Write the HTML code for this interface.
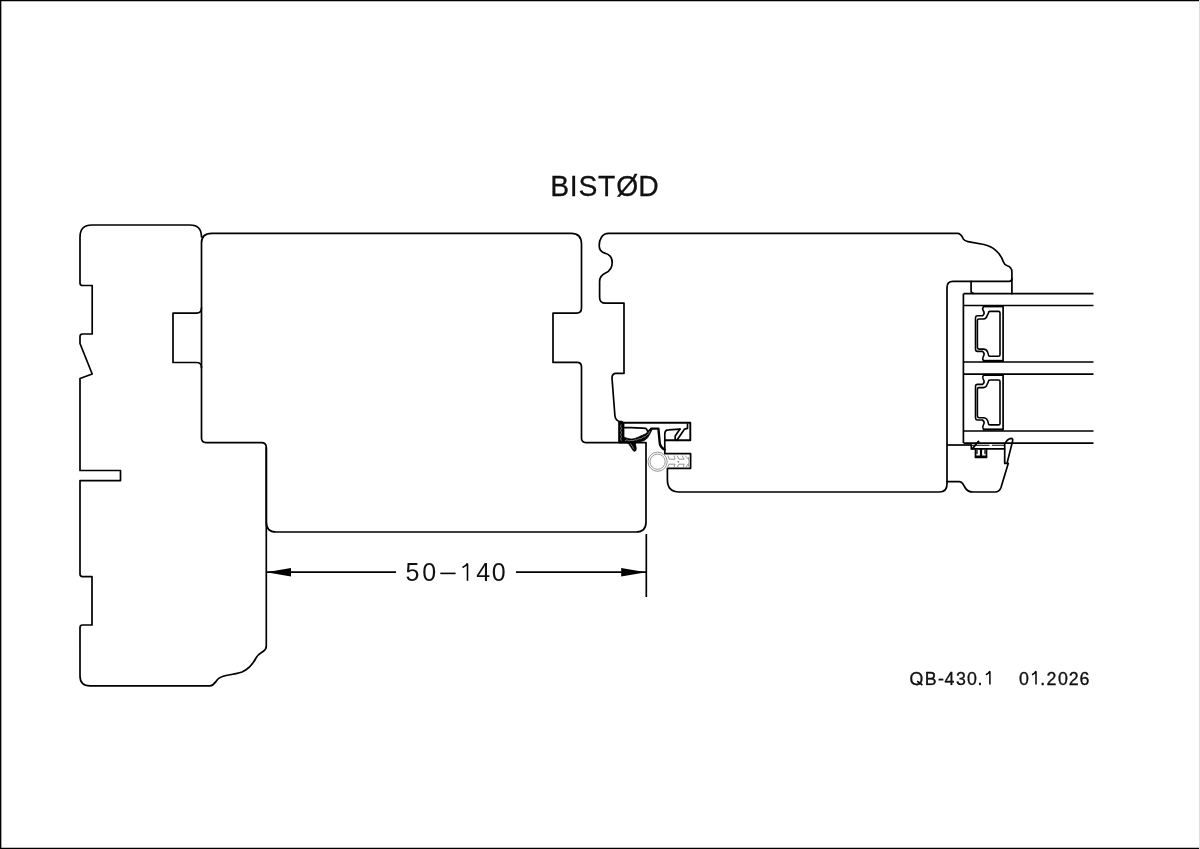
<!DOCTYPE html>
<html><head><meta charset="utf-8"><title>BISTØD</title>
<style>
html,body{margin:0;padding:0;background:#fff;}
body{width:1200px;height:849px;overflow:hidden;position:relative;}
svg{position:absolute;left:0;top:0;}
.t{font-family:"Liberation Sans",sans-serif;fill:#111;}
.tg{opacity:0.999;}
svg{will-change:transform;}
</style></head>
<body>
<svg width="1200" height="849" viewBox="0 0 1200 849">
<!-- page border -->
<rect x="0" y="0" width="1200" height="849" fill="#fff"/>
<line x1="0" y1="0.5" x2="1200" y2="0.5" stroke="#000" stroke-width="1.5"/>
<line x1="0.6" y1="0" x2="0.6" y2="849" stroke="#000" stroke-width="1.5"/>
<line x1="0" y1="848.4" x2="1200" y2="848.4" stroke="#000" stroke-width="1.2"/>
<line x1="1199.5" y1="0" x2="1199.5" y2="849" stroke="#ddd" stroke-width="1"/>

<g fill="none" stroke="#000" stroke-width="1.7" stroke-linejoin="round" stroke-linecap="round">
<!-- left piece (stud) -->
<path id="stud" d="M201.5 308 Q201.5 313.1 196.5 313.1 H173 V362.5 H196.5 Q201.5 362.5 201.5 367.5 M201.5 237 Q201.5 225 190 225 H92 Q80 225 80 237 V283 Q80 285.5 82.5 285.5 H92.2 V334 H82.5 Q80 334 80 336.5 V343.5 L92.2 374 L80 378.5 V470.5 H120.5 V480.6 H80 V574 Q80 576.6 82.5 576.6 H92 V625 H82.5 Q80 625 80 627.5 V676 Q80 685.8 90 685.8 H210 C214 685.8 215 682 218 679 C220 677 222 676.5 226 675.5 C232 674.5 238 673.5 242 672 C249 669 253 664 256 658 C258 654 261 653 263 651.5 C265.5 650 266.3 648.5 266.3 646 V447.5"/>
<!-- center frame piece -->
<path id="frame" d="M211.7 233.4 H571 Q581.5 233.4 581.5 244 V308 Q581.5 313.1 576.5 313.1 H553 V362.4 H577 Q581.5 362.4 581.5 367 V438 Q581.5 442.6 586 442.6 H646 V522 Q646 532 636 532 H276 Q266.3 532 266.3 522 V447.5 Q266.3 442.6 261.5 442.6 H206 Q201.5 442.6 201.5 438 V243 Q201.5 233.4 211.7 233.4 Z"/>
</g>


<!-- sash -->
<g fill="none" stroke="#000" stroke-width="1.7" stroke-linejoin="round" stroke-linecap="round">
<path d="M620 421.8 Q615.3 420.5 614.9 415.5 L612 378 Q612 373.3 616 373.3 H624 V303.2 H605.5 Q599.6 303.2 599.6 297.5 V281.5 C599.6 277.5 601.5 274.8 605.5 273 C609 271.5 612.2 268 612.2 262.5 C612.2 258 609.5 254.5 605.3 253.3 C602 252.5 599.2 250 599.2 245.5 C599.2 239 602.5 233.3 608.4 233.3 H957.5 C960.5 233.3 962 236 963.3 238.8 C964.3 240.6 965.5 241.1 968 241.6 L983.9 244.5 C993 246.5 1000.5 253 1003.3 261.8 C1004 264 1005.2 265 1007.3 265.7 C1010 266.6 1011.9 268.5 1011.9 272 V293.7"/>
<path d="M1011.9 278.5 Q1011.9 281.4 1009 281.4 H953 Q947 281.4 947 287.4 V484 Q947 492 939.3 492 H679.3 Q667.4 492 667.4 479.8 V468.3 H690.6 V453.7 H664.8 V434 Q664.8 429.8 668.5 429.8 L680 429.1"/>
<!-- top bead -->
<path d="M971.1 281.4 V291 Q971.1 293.3 973.5 293.3"/>
<!-- upper slot -->
<path d="M619.5 422.7 H690.3 V440.2 H664.8" stroke-width="1.9"/>
<path d="M687.5 424.2 V428.4 L684.6 429.1 L676.7 440.4 M680 429.1 L675.2 436 V440.2"/>
<!-- tooth -->
<path d="M651.4 428.6 H658.4 L659.8 443.5 Q660.5 447.5 664.8 449.8" stroke-width="2.4"/>
<!-- frame line under seal is part of frame -->
</g>
<!-- glazing lines -->
<g fill="none" stroke="#000" stroke-width="1.7" stroke-linecap="butt">
<path d="M963.5 293.7 H1093.5 M963.5 305.5 H1093.5 M963.5 362 H1093.5 M963.5 374.2 H1093.5 M963.5 431 H1093.5 M963.5 443.1 H1093.5 M963.4 293.7 V443.1"/>
<path d="M947 445 H971.5"/>
</g>


<!-- spacers -->
<g>
<path d="M983.5 306.5 C982.5 308 982.5 309.5 983.2 310.5 C984.5 312.5 984.3 314.5 982.5 315.8 H977.5 Q975.5 315.8 975.5 318 V349 Q975.5 351.4 977.5 351.4 H982.5 C984.3 352.7 984.5 354.8 983.2 356.8 C982.5 358 982.5 359.5 983.5 361" fill="none" stroke="#000" stroke-width="1.6"/>
<path d="M988.4 312.9 Q988.4 311.4 990 311.4 H998.5 Q1000 311.4 1000 313 V354.8 Q1000 356.3 998.5 356.3 H990 Q988.4 356.3 988.4 354.8 C988.2 352.5 987.5 351 986.2 350 C985.2 349.3 984.6 349.1 983.5 349.1 H979 Q977.4 349.1 977.4 347.5 V320.5 Q977.4 319 979 319 H983.5 C985 318.8 986.5 318 986.9 316.3 C987.4 314.5 988.4 313.8 988.4 312.9 Z" fill="none" stroke="#000" stroke-width="1.6"/>
<path d="M1003.1 305.6 V361.8" stroke="#000" stroke-width="1.7"/>
<rect x="983" y="305.2" width="20" height="2.2" fill="#000"/>
<rect x="983" y="359.8" width="20" height="2.2" fill="#000"/>
</g>
<g transform="translate(0,68.6)">
<path d="M983.5 306.5 C982.5 308 982.5 309.5 983.2 310.5 C984.5 312.5 984.3 314.5 982.5 315.8 H977.5 Q975.5 315.8 975.5 318 V349 Q975.5 351.4 977.5 351.4 H982.5 C984.3 352.7 984.5 354.8 983.2 356.8 C982.5 358 982.5 359.5 983.5 361" fill="none" stroke="#000" stroke-width="1.6"/>
<path d="M988.4 312.9 Q988.4 311.4 990 311.4 H998.5 Q1000 311.4 1000 313 V354.8 Q1000 356.3 998.5 356.3 H990 Q988.4 356.3 988.4 354.8 C988.2 352.5 987.5 351 986.2 350 C985.2 349.3 984.6 349.1 983.5 349.1 H979 Q977.4 349.1 977.4 347.5 V320.5 Q977.4 319 979 319 H983.5 C985 318.8 986.5 318 986.9 316.3 C987.4 314.5 988.4 313.8 988.4 312.9 Z" fill="none" stroke="#000" stroke-width="1.6"/>
<path d="M1003.1 305.6 V361.8" stroke="#000" stroke-width="1.7"/>
<rect x="983" y="305.2" width="20" height="2.2" fill="#000"/>
<rect x="983" y="359.8" width="20" height="2.2" fill="#000"/>
</g>

<!-- seal -->
<g fill="#000" stroke="#000" stroke-linejoin="round">
<path d="M618.6 422.6 Q619 420.9 621 421 Q623.5 421.3 624 423 V437.2 C627 438.2 629.5 439 631.8 439 C634.5 438.8 637 437.7 639.2 436.7 C641.5 435.6 643.8 434.8 645.6 433.8 C647 433 648 431.6 648.6 430.3 C649.3 429.2 650.2 428.4 651.1 428.3 L652 429.8 C650.6 432.3 649.4 435.5 647.6 437.7 C646 439.5 644.5 440.4 642.7 441 C640.4 441.8 637.8 442.3 635.2 442.4 L636.2 448.1 Q636.6 451.3 634.5 451.3 Q633.3 451.3 632.6 449.8 L628.5 443.6 L626.5 443 H618.6 Z" stroke-width="0.8"/>
</g>
<path d="M624.6 427.6 C629 427.6 633 427.8 636.7 427.8 C640 427.9 643.5 428 645.6 428.3 C646.7 429 647.3 430.3 647.8 431.6" fill="none" stroke="#000" stroke-width="1.8" stroke-linecap="round"/>
<g stroke="#fff" stroke-width="0.55" fill="none" opacity="0.85">
<path d="M621.2 424.5 L620.6 426.5 L621.6 428.5 L620.6 430.5 L621.6 432.5 L620.6 434.5 L621.6 436.5 L620.6 438.5 L621.4 440.8"/>
<path d="M625 440.6 L627 439.8 L629 441 L631 440.4 L633 440.6 L635 439.8 L637 440 L639 438.6 L641 438.8 L643 437.2 L645 436.8 L647 434.8 L648.6 433.6 L650 431"/>
<path d="M630.5 443.5 L631.5 445.5 L632.6 446.2 L633.4 448.4 L634.3 449.2"/>
</g>
<!-- gasket tube -->
<circle cx="657.6" cy="461.7" r="9.6" fill="none" stroke="#8a8a8a" stroke-width="0.9"/>
<circle cx="657.6" cy="461.7" r="7.6" fill="none" stroke="#8a8a8a" stroke-width="0.9"/>
<g fill="none" stroke="#8a8a8a" stroke-width="0.9">
<path d="M668 455.5 L669.2 459.2 H675 L674 455.5 M677 455.5 L679 459.2 H684.2 L682 455.5 M685 455.5 L688.3 459"/>
<path d="M667.5 467.5 L669 464.2 H675 L674 467.5 M677 467.5 L679 464.2 H684.2 L683 467.5 M685.5 467.5 L688 464"/>
<path d="M688.3 457 Q690 461.5 688.3 466.5"/>
</g>
<circle cx="678.3" cy="461.7" r="0.7" fill="#555"/>

<!-- bottom weather bar + drip -->
<g fill="none" stroke="#000" stroke-width="1.7" stroke-linejoin="round" stroke-linecap="round">
<path d="M947 481.7 H959.2 C962 481.7 963.2 484 965 487.5 C966.5 490.3 969 492 973 492 H995 C998 492 1000 490.3 1001 487.5 L1008.3 463.3"/>
<path d="M1004.7 463.4 V444 C1006 441.5 1008.5 438.8 1011 438.4 C1012.6 438.4 1013 439.5 1012.6 441 L1007 463.4 Z" stroke-width="1.7"/>
<path d="M971.3 445 V448.9 H1004.5"/>
<path d="M972.3 448.9 L978.3 441.5"/>
<path d="M975.5 448.9 V457.5 H986.5 V448.9" stroke-width="1.7"/>
<path d="M976 456.8 H986" stroke-width="2.4"/>
<path d="M981 449.6 V455.4" stroke-width="2.2"/>
<path d="M977 450.5 V453.5 M985 450.5 V453.5" stroke-width="1.3"/>
<path d="M972 445.3 H989 M992.3 445.3 H1004.5" stroke-width="1.1"/>
</g>
<circle cx="978.5" cy="441.8" r="1.1" fill="#000"/>

<!-- dimension -->
<g stroke="#000" stroke-width="1.7" fill="none">
<line x1="266.3" y1="572.2" x2="396" y2="572.2"/>
<line x1="516" y1="572.2" x2="646" y2="572.2"/>
<line x1="646.3" y1="534" x2="646.3" y2="597"/>
</g>
<path d="M266.3 572.2 L291 567.9 L291 576.6 Z" fill="#000"/>
<path d="M646.2 572.2 L621.2 567.9 L621.2 576.6 Z" fill="#000"/>

<clipPath id="qclip"><rect x="900" y="-30" width="100" height="30.9"/></clipPath>
<g class="tg"><text class="t" x="550.2 569.8 578.6 597.9 616.2 638.2" y="0" font-size="28.3" stroke="#000" stroke-width="0.25" transform="translate(0,196.3) scale(1,1.075)">BISTØD</text>
<text class="t" x="405.6 422.2" y="580.8" font-size="25">50</text>
<text class="t" x="476.2 491.7" y="580.8" font-size="25">40</text>
<g stroke="#000" fill="none" stroke-linecap="butt">
<line x1="440.3" y1="573.4" x2="455.6" y2="573.4" stroke-width="1.6"/>
<path d="M467.5 580.8 V563.4 M467.5 563.4 C466.5 565.3 464.5 566.6 462.5 567.4" stroke-width="1.6"/>
<path d="M917.2 681.2 L922.4 685" stroke-width="1.6"/>
<path d="M989.9 684.6 V671.2 M989.9 671.2 C989 672.8 987.6 674 985.9 674.8" stroke-width="1.5"/>
<path d="M1036 684.6 V671.2 M1036 671.2 C1035.1 672.8 1033.7 674 1032 674.8" stroke-width="1.5"/>
</g>
<text class="t" clip-path="url(#qclip)" x="909.6 924.85 937.9 944.5 955.95 966.9 977.5" y="0" font-size="17.8" stroke="#000" stroke-width="0.3" transform="translate(0,684.6) scale(1,1.06)">QB-430.</text>
<text class="t" x="1019 1040.2 1046.4 1058 1068.7 1079.5" y="0" font-size="17.8" stroke="#000" stroke-width="0.3" transform="translate(0,684.6) scale(1,1.06)">0.2026</text></g>
</svg>
</body></html>
